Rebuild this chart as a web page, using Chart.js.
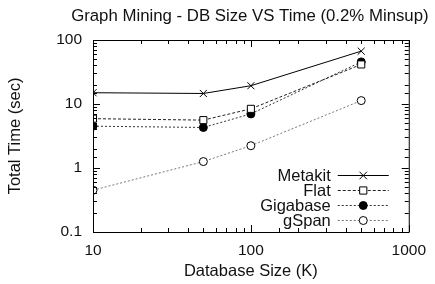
<!DOCTYPE html>
<html>
<head>
<meta charset="utf-8">
<script src="https://cdn.jsdelivr.net/npm/chart.js@4/dist/chart.umd.min.js"></script>
<style>
  html, body { margin: 0; padding: 0; background: #fff; }
  #wrap { width: 435px; height: 284px; }
</style>
</head>
<body>
<div id="wrap"><canvas id="chart" width="435" height="284"></canvas></div>
<script>
const dbSizes = [10, 50, 100, 500];
const metakitTimes = [15.0, 14.6, 19.3, 67];
const flatTimes = [5.9, 5.6, 8.4, 41.5];
const gigabaseTimes = [4.5, 4.3, 7.0, 45.5];
const gspanTimes = [0.45, 1.26, 2.23, 11.3];

const chartTitle = "Graph Mining - DB Size VS Time (0.2% Minsup)";
const FONT = "'Liberation Sans', Arial, sans-serif";

function toPoints(values) {
  return dbSizes.map((x, i) => ({ x, y: values[i] }));
}

const seriesDefs = [
  { label: "Metakit", data: metakitTimes, color: "#000", dash: [], marker: "crossRot", fill: false, radius: 5 },
  { label: "Flat", data: flatTimes, color: "#222", dash: [3, 2], marker: "rect", fill: false, radius: 5 },
  { label: "Gigabase", data: gigabaseTimes, color: "#333", dash: [2, 2], marker: "circle", fill: true, radius: 4 },
  { label: "gSpan", data: gspanTimes, color: "#777", dash: [2, 2], marker: "circle", fill: false, radius: 4 }
];

const datasets = seriesDefs.map((s) => ({
  label: s.label,
  data: toPoints(s.data),
  borderColor: s.color,
  borderWidth: 1,
  borderDash: s.dash,
  pointStyle: s.marker,
  pointRadius: s.radius,
  pointBorderColor: "#000",
  pointBorderWidth: 1,
  pointBackgroundColor: s.fill ? "#000" : "#fff",
  tension: 0
}));

function drawMarker(ctx, style, x, y, r, fill) {
  ctx.save();
  ctx.setLineDash([]);
  ctx.strokeStyle = "#000";
  ctx.fillStyle = fill ? "#000" : "#fff";
  ctx.lineWidth = 1;
  ctx.beginPath();
  if (style === "crossRot") {
    const d = r * 0.75;
    ctx.moveTo(x - d, y - d); ctx.lineTo(x + d, y + d);
    ctx.moveTo(x + d, y - d); ctx.lineTo(x - d, y + d);
    ctx.stroke();
  } else if (style === "rect") {
    const d = r * 0.72;
    ctx.rect(x - d, y - d, d * 2, d * 2);
    ctx.fill(); ctx.stroke();
  } else {
    ctx.arc(x, y, r, 0, Math.PI * 2);
    ctx.fill(); ctx.stroke();
  }
  ctx.restore();
}

// title, frame + inward ticks on all four sides, legend in the lower right
const framePlugin = {
  id: "frame",
  afterDatasetsDraw(chart) {
    const { ctx, chartArea: a, scales } = chart;
    ctx.save();

    ctx.font = "16.8px " + FONT;
    ctx.fillStyle = "#111";
    ctx.textAlign = "center";
    ctx.textBaseline = "alphabetic";
    ctx.fillText(chartTitle, (a.left + a.right) / 2 - 1, 21);

    ctx.strokeStyle = "#000";
    ctx.lineWidth = 1;
    ctx.setLineDash([]);
    ctx.beginPath();
    ctx.rect(a.left + 0.5, a.top + 0.5, a.right - a.left, a.bottom - a.top);
    ctx.stroke();

    ctx.beginPath();
    scales.x.ticks.forEach((t) => {
      const px = Math.round(scales.x.getPixelForValue(t.value)) + 0.5;
      const major = Math.abs(Math.log10(t.value) - Math.round(Math.log10(t.value))) < 1e-6;
      const len = major ? 7 : 4;
      ctx.moveTo(px, a.bottom); ctx.lineTo(px, a.bottom - len);
      ctx.moveTo(px, a.top); ctx.lineTo(px, a.top + len);
    });
    scales.y.ticks.forEach((t) => {
      const py = Math.round(scales.y.getPixelForValue(t.value)) + 0.5;
      const major = Math.abs(Math.log10(t.value) - Math.round(Math.log10(t.value))) < 1e-6;
      const len = major ? 7 : 4;
      ctx.moveTo(a.left, py); ctx.lineTo(a.left + len, py);
      ctx.moveTo(a.right, py); ctx.lineTo(a.right - len, py);
    });
    ctx.stroke();

    // legend
    ctx.font = "16.5px " + FONT;
    ctx.textAlign = "right";
    ctx.textBaseline = "middle";
    ctx.fillStyle = "#111";
    const textRight = a.right - 78;
    const lineL = a.right - 71;
    const lineR = a.right - 20;
    chart.data.datasets.forEach((ds, i) => {
      const y = a.bottom - 57 + i * 15;
      ctx.fillText(ds.label, textRight, y + 1);
      ctx.beginPath();
      ctx.strokeStyle = ds.borderColor;
      ctx.setLineDash(ds.borderDash);
      ctx.moveTo(lineL, y + 0.5); ctx.lineTo(lineR, y + 0.5);
      ctx.stroke();
      drawMarker(ctx, ds.pointStyle, (lineL + lineR) / 2, y + 0.5, ds.pointRadius, ds.pointBackgroundColor === "#000");
    });
    ctx.restore();
  }
};

function decadeLabel(value) {
  const l = Math.log10(value);
  return Math.abs(l - Math.round(l)) < 1e-6 ? String(value) : "";
}

new Chart(document.getElementById("chart"), {
  type: "line",
  data: { datasets },
  options: {
    responsive: false,
    animation: false,
    layout: { padding: { left: 0, right: 24, top: 40, bottom: 0 } },
    plugins: {
      legend: { display: false },
      tooltip: { enabled: false },
      title: { display: false }
    },
    scales: {
      x: {
        type: "logarithmic",
        min: 10,
        max: 1000,
        grid: { display: false, drawTicks: false },
        border: { display: false },
        ticks: {
          autoSkip: false,
          maxRotation: 0,
          color: "#111",
          padding: 9,
          font: { family: FONT, size: 15.5 },
          callback: (v) => decadeLabel(v)
        },
        title: {
          display: true,
          text: "Database Size (K)",
          color: "#111",
          font: { family: FONT, size: 16.5 },
          padding: { top: 0, bottom: 3 }
        },
        afterFit: (scale) => { scale.height = 52; }
      },
      y: {
        type: "logarithmic",
        min: 0.1,
        max: 100,
        grid: { display: false, drawTicks: false },
        border: { display: false },
        ticks: {
          autoSkip: false,
          color: "#111",
          padding: 11,
          font: { family: FONT, size: 15.5 },
          callback: (v) => decadeLabel(v)
        },
        title: {
          display: true,
          text: "Total Time (sec)",
          color: "#111",
          font: { family: FONT, size: 16.5 },
          padding: { top: 6, bottom: 0 }
        },
        afterFit: (scale) => { scale.width = 93; }
      }
    }
  },
  plugins: [framePlugin]
});
</script>
</body>
</html>
